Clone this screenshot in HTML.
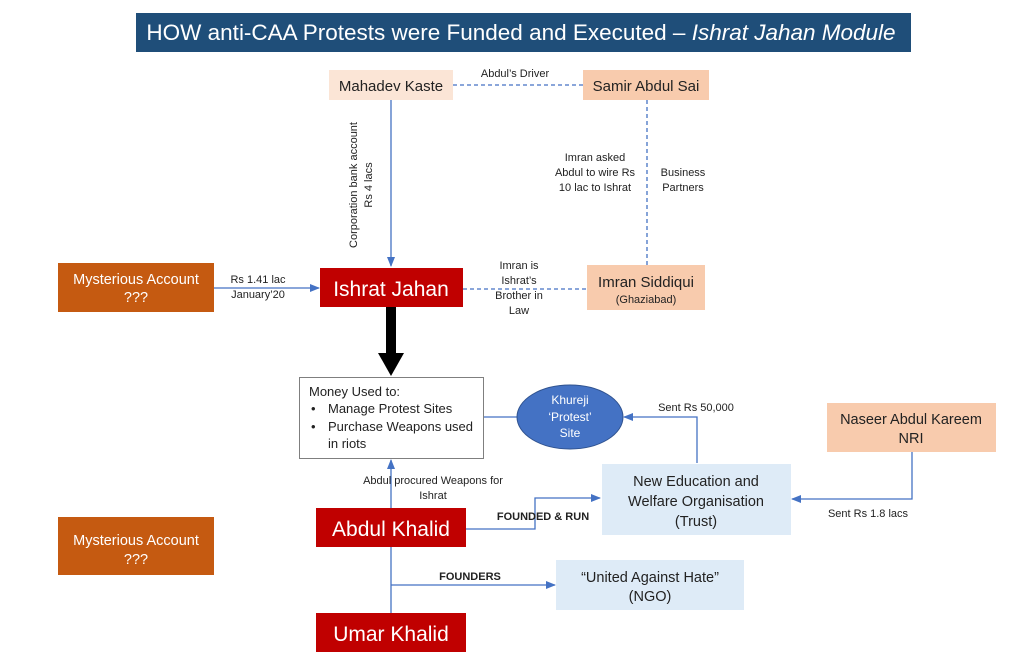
<!DOCTYPE html>
<html><head><meta charset="utf-8"><style>
html,body{margin:0;padding:0;background:#fff;}
svg{display:block;font-family:"Liberation Sans",sans-serif;}
</style></head><body>
<svg width="1015" height="671" viewBox="0 0 1015 671" xmlns="http://www.w3.org/2000/svg">
<defs>
<marker id="a" markerWidth="10" markerHeight="8" refX="9" refY="4" orient="auto" markerUnits="userSpaceOnUse"><path d="M0,0 L10,4 L0,8 z" fill="#4472c4"/></marker>
</defs>
<rect x="136" y="13" width="775" height="39" fill="#1f4e79"/>
<text x="521" y="40" font-size="22.5" fill="#fff" text-anchor="middle">HOW anti-CAA Protests were Funded and Executed – <tspan font-style="italic">Ishrat Jahan Module</tspan></text>

<g stroke="#4472c4" stroke-width="1.3" fill="none">
<line x1="453" y1="85" x2="583" y2="85" stroke-dasharray="4,3"/>
<line x1="647" y1="100" x2="647" y2="265" stroke-dasharray="4,3"/>
<line x1="463" y1="289" x2="587" y2="289" stroke-dasharray="4,3"/>
<line x1="391" y1="100" x2="391" y2="266" marker-end="url(#a)"/>
<line x1="214" y1="288" x2="319" y2="288" marker-end="url(#a)"/>
<line x1="483" y1="417" x2="517" y2="417"/>
<polyline points="697,463 697,417 624,417" marker-end="url(#a)"/>
<polyline points="912,452 912,499 792,499" marker-end="url(#a)"/>
<polyline points="466,529 535,529 535,498 600,498" marker-end="url(#a)"/>
<line x1="391" y1="508" x2="391" y2="460" marker-end="url(#a)"/>
<line x1="391" y1="547" x2="391" y2="613"/>
<line x1="391" y1="585" x2="555" y2="585" marker-end="url(#a)"/>
</g>
<rect x="386" y="307" width="10" height="48" fill="#000"/>
<path d="M378,353 L404,353 L391,376 z" fill="#000"/>

<rect x="329" y="70" width="124" height="30" fill="#fbe5d6"/>
<text x="391" y="91" font-size="15" text-anchor="middle" fill="#222">Mahadev Kaste</text>
<rect x="583" y="70" width="126" height="30" fill="#f8cbad"/>
<text x="646" y="91" font-size="15" text-anchor="middle" fill="#222">Samir Abdul Sai</text>
<rect x="320" y="268" width="143" height="39" fill="#c00000"/>
<text x="391" y="296" font-size="21" text-anchor="middle" fill="#fff">Ishrat Jahan</text>
<rect x="587" y="265" width="118" height="45" fill="#f8cbad"/>
<text x="646" y="287" font-size="15" text-anchor="middle" fill="#222">Imran Siddiqui</text>
<text x="646" y="303" font-size="11" text-anchor="middle" fill="#222">(Ghaziabad)</text>
<rect x="58" y="263" width="156" height="49" fill="#c55a11"/>
<text x="136" y="284" font-size="14.5" text-anchor="middle" fill="#fff">Mysterious Account</text>
<text x="136" y="302" font-size="14.5" text-anchor="middle" fill="#fff">???</text>
<rect x="58" y="517" width="156" height="58" fill="#c55a11"/>
<text x="136" y="545" font-size="14.5" text-anchor="middle" fill="#fff">Mysterious Account</text>
<text x="136" y="564" font-size="14.5" text-anchor="middle" fill="#fff">???</text>
<rect x="299.5" y="377.5" width="184" height="81" fill="#fff" stroke="#7f7f7f"/>
<text x="309" y="396" font-size="13" fill="#222">Money Used to:</text>
<text x="311" y="413" font-size="13" fill="#222">•</text><text x="328" y="413" font-size="13" fill="#222">Manage Protest Sites</text>
<text x="311" y="431" font-size="13" fill="#222">•</text><text x="328" y="431" font-size="13" fill="#222">Purchase Weapons used</text>
<text x="328" y="448" font-size="13" fill="#222">in riots</text>
<ellipse cx="570" cy="417" rx="53" ry="32" fill="#4472c4" stroke="#2f528f"/>
<text x="570" y="404" font-size="12" text-anchor="middle" fill="#fff">Khureji</text>
<text x="570" y="421" font-size="12" text-anchor="middle" fill="#fff">‘Protest’</text>
<text x="570" y="437" font-size="12" text-anchor="middle" fill="#fff">Site</text>
<rect x="602" y="464" width="189" height="71" fill="#deebf7"/>
<text x="696" y="486" font-size="14.5" text-anchor="middle" fill="#222">New Education and</text>
<text x="696" y="506" font-size="14.5" text-anchor="middle" fill="#222">Welfare Organisation</text>
<text x="696" y="526" font-size="14.5" text-anchor="middle" fill="#222">(Trust)</text>
<rect x="827" y="403" width="169" height="49" fill="#f8cbad"/>
<text x="911" y="424" font-size="14.5" text-anchor="middle" fill="#222">Naseer Abdul Kareem</text>
<text x="911" y="443" font-size="14.5" text-anchor="middle" fill="#222">NRI</text>
<rect x="316" y="508" width="150" height="39" fill="#c00000"/>
<text x="391" y="536" font-size="21" text-anchor="middle" fill="#fff">Abdul Khalid</text>
<rect x="556" y="560" width="188" height="50" fill="#deebf7"/>
<text x="650" y="582" font-size="14.5" text-anchor="middle" fill="#222">“United Against Hate”</text>
<text x="650" y="601" font-size="14.5" text-anchor="middle" fill="#222">(NGO)</text>
<rect x="316" y="613" width="150" height="39" fill="#c00000"/>
<text x="391" y="641" font-size="21" text-anchor="middle" fill="#fff">Umar Khalid</text>

<g font-size="11" fill="#222" text-anchor="middle">
<text x="515" y="77">Abdul’s Driver</text>
<text transform="translate(357,185) rotate(-90)">Corporation bank account</text>
<text transform="translate(372,185) rotate(-90)">Rs 4 lacs</text>
<text x="595" y="161">Imran asked</text>
<text x="595" y="176">Abdul to wire Rs</text>
<text x="595" y="191">10 lac to Ishrat</text>
<text x="683" y="176">Business</text>
<text x="683" y="191">Partners</text>
<text x="519" y="269">Imran is</text>
<text x="519" y="284">Ishrat’s</text>
<text x="519" y="299">Brother in</text>
<text x="519" y="314">Law</text>
<text x="258" y="283">Rs 1.41 lac</text>
<text x="258" y="298">January’20</text>
<text x="696" y="411">Sent Rs 50,000</text>
<text x="868" y="517">Sent Rs 1.8 lacs</text>
<text x="433" y="484">Abdul procured Weapons for</text>
<text x="433" y="499">Ishrat</text>
<text x="543" y="520" font-weight="bold">FOUNDED &amp; RUN</text>
<text x="470" y="580" font-weight="bold">FOUNDERS</text>
</g>
</svg>
</body></html>
